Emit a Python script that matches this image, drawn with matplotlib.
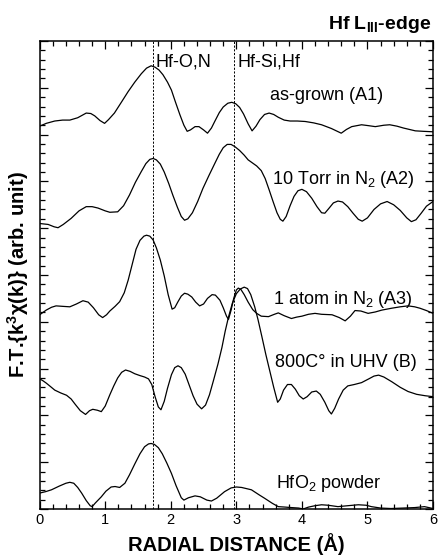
"""Fourier transforms of Hf L_III-edge EXAFS for the HfSiON films (stacked, offset)."""

import matplotlib

matplotlib.use("Agg")
import matplotlib.pyplot as plt
from matplotlib.ticker import MultipleLocator

plt.rcParams.update({
    "font.family": ["Liberation Sans", "DejaVu Sans"],
    "mathtext.fontset": "custom",
    "mathtext.rm": "Liberation Sans",
    "mathtext.it": "Liberation Sans:italic",
    "mathtext.bf": "Liberation Sans:bold",
})

# radial distance (A) / offset FT magnitude (arb.)
r_a1 = [0.00, 0.10, 0.23, 0.35, 0.46, 0.58, 0.71, 0.78, 0.84, 0.92, 0.99, 1.05, 1.14, 1.25, 1.35,
        1.45, 1.55, 1.63, 1.70, 1.76, 1.82, 1.88, 1.95, 2.01, 2.07, 2.14, 2.20, 2.25, 2.30, 2.37,
        2.43, 2.50, 2.56, 2.62, 2.67, 2.74, 2.80, 2.87, 2.93, 2.99, 3.05, 3.11, 3.18, 3.24, 3.30,
        3.36, 3.43, 3.50, 3.57, 3.64, 3.73, 3.82, 3.93, 4.05, 4.18, 4.30, 4.45, 4.60, 4.68, 4.76,
        4.91, 5.02, 5.12, 5.25, 5.34, 5.45, 5.55, 5.73, 5.85, 6.00]
ft_a1 = [8.18, 8.24, 8.29, 8.31, 8.31, 8.36, 8.46, 8.45, 8.40, 8.30, 8.24, 8.32, 8.46, 8.70, 8.92,
         9.12, 9.30, 9.42, 9.47, 9.44, 9.38, 9.28, 9.12, 8.95, 8.70, 8.42, 8.20, 8.07, 8.10, 8.17,
         8.17, 8.10, 8.03, 8.14, 8.28, 8.47, 8.59, 8.67, 8.69, 8.66, 8.58, 8.44, 8.23, 8.08, 8.18,
         8.32, 8.43, 8.46, 8.43, 8.37, 8.31, 8.29, 8.29, 8.28, 8.25, 8.21, 8.13, 8.03, 8.11, 8.17,
         8.21, 8.19, 8.17, 8.20, 8.21, 8.18, 8.14, 8.08, 8.07, 8.06]

r_a2 = [0.00, 0.13, 0.22, 0.28, 0.36, 0.48, 0.60, 0.71, 0.80, 0.89, 1.00, 1.07, 1.19, 1.28, 1.37,
        1.46, 1.55, 1.62, 1.68, 1.73, 1.78, 1.84, 1.90, 1.97, 2.03, 2.10, 2.16, 2.21, 2.26, 2.33,
        2.41, 2.49, 2.58, 2.67, 2.74, 2.80, 2.86, 2.92, 2.98, 3.05, 3.12, 3.18, 3.25, 3.31, 3.38,
        3.44, 3.50, 3.56, 3.62, 3.67, 3.71, 3.76, 3.82, 3.88, 3.94, 4.00, 4.07, 4.15, 4.23, 4.30,
        4.35, 4.41, 4.48, 4.55, 4.62, 4.70, 4.78, 4.86, 4.92, 5.00, 5.10, 5.20, 5.30, 5.40, 5.50,
        5.60, 5.67, 5.74, 5.82, 5.90, 6.00]
ft_a2 = [6.10, 6.08, 6.03, 6.01, 6.08, 6.21, 6.37, 6.46, 6.46, 6.43, 6.37, 6.34, 6.35, 6.48, 6.71,
         6.98, 7.21, 7.38, 7.47, 7.49, 7.46, 7.37, 7.20, 6.95, 6.71, 6.45, 6.25, 6.17, 6.20, 6.33,
         6.57, 6.85, 7.12, 7.38, 7.58, 7.72, 7.79, 7.79, 7.74, 7.66, 7.56, 7.46, 7.39, 7.33, 7.23,
         7.06, 6.82, 6.57, 6.33, 6.19, 6.15, 6.25, 6.48, 6.68, 6.80, 6.83, 6.78, 6.64, 6.46, 6.33,
         6.32, 6.42, 6.54, 6.58, 6.56, 6.46, 6.32, 6.19, 6.15, 6.22, 6.40, 6.52, 6.57, 6.50, 6.38,
         6.22, 6.14, 6.18, 6.32, 6.47, 6.57]

r_a3 = [0.00, 0.10, 0.18, 0.25, 0.35, 0.46, 0.56, 0.66, 0.74, 0.82, 0.90, 0.96, 1.02, 1.07, 1.15,
        1.22, 1.29, 1.35, 1.41, 1.47, 1.53, 1.59, 1.63, 1.68, 1.73, 1.78, 1.84, 1.90, 1.96, 2.02,
        2.06, 2.11, 2.16, 2.21, 2.26, 2.32, 2.38, 2.44, 2.50, 2.56, 2.63, 2.68, 2.75, 2.80, 2.85,
        2.88, 2.92, 2.96, 3.00, 3.03, 3.07, 3.12, 3.18, 3.25, 3.31, 3.38, 3.49, 3.58, 3.64, 3.73,
        3.84, 3.92, 4.00, 4.10, 4.20, 4.30, 4.46, 4.57, 4.66, 4.74, 4.81, 4.90, 5.01, 5.12, 5.22,
        5.37, 5.50, 5.62, 5.72, 5.80, 5.90, 6.00]
ft_a3 = [4.15, 4.25, 4.31, 4.34, 4.33, 4.32, 4.38, 4.45, 4.42, 4.30, 4.15, 4.09, 4.15, 4.23, 4.33,
         4.43, 4.62, 4.89, 5.22, 5.55, 5.74, 5.83, 5.85, 5.83, 5.75, 5.58, 5.32, 4.98, 4.58, 4.27,
         4.30, 4.43, 4.55, 4.61, 4.59, 4.53, 4.42, 4.34, 4.38, 4.50, 4.58, 4.57, 4.46, 4.30, 4.12,
         4.05, 4.25, 4.50, 4.68, 4.72, 4.69, 4.58, 4.42, 4.26, 4.18, 4.12, 4.11, 4.16, 4.19, 4.13,
         4.07, 4.10, 4.12, 4.16, 4.18, 4.16, 4.15, 4.09, 4.02, 4.12, 4.24, 4.23, 4.18, 4.21, 4.25,
         4.29, 4.32, 4.34, 4.32, 4.29, 4.24, 4.18]

r_b = [0.00, 0.05, 0.10, 0.17, 0.23, 0.32, 0.41, 0.48, 0.54, 0.62, 0.70, 0.76, 0.81, 0.88, 0.94,
       1.00, 1.07, 1.13, 1.19, 1.25, 1.31, 1.38, 1.45, 1.53, 1.60, 1.66, 1.71, 1.76, 1.81, 1.85,
       1.90, 1.95, 2.01, 2.06, 2.11, 2.16, 2.22, 2.28, 2.34, 2.40, 2.47, 2.53, 2.59, 2.65, 2.72,
       2.78, 2.83, 2.88, 2.94, 3.00, 3.06, 3.12, 3.17, 3.22, 3.28, 3.33, 3.39, 3.45, 3.51, 3.57,
       3.63, 3.67, 3.72, 3.78, 3.84, 3.90, 3.96, 4.02, 4.08, 4.15, 4.22, 4.28, 4.35, 4.41, 4.45,
       4.50, 4.56, 4.63, 4.70, 4.80, 4.91, 5.02, 5.10, 5.17, 5.25, 5.37, 5.50, 5.62, 5.75, 5.88,
       6.00]
ft_b = [2.78, 2.74, 2.69, 2.61, 2.54, 2.48, 2.43, 2.35, 2.24, 2.10, 2.02, 2.10, 2.13, 2.11, 2.08,
        2.20, 2.44, 2.63, 2.80, 2.92, 2.97, 2.94, 2.89, 2.85, 2.82, 2.78, 2.66, 2.40, 2.18, 2.12,
        2.30, 2.58, 2.87, 3.02, 3.06, 3.02, 2.88, 2.65, 2.42, 2.24, 2.14, 2.22, 2.44, 2.74, 3.10,
        3.45, 3.80, 4.10, 4.40, 4.60, 4.70, 4.74, 4.71, 4.58, 4.32, 4.05, 3.68, 3.30, 2.95, 2.60,
        2.28, 2.35, 2.54, 2.66, 2.66, 2.56, 2.42, 2.35, 2.40, 2.50, 2.52, 2.45, 2.28, 2.10, 2.03,
        2.15, 2.35, 2.54, 2.63, 2.66, 2.70, 2.78, 2.84, 2.86, 2.82, 2.72, 2.60, 2.51, 2.45, 2.42,
        2.40]

r_hfo2 = [0.00, 0.09, 0.18, 0.30, 0.40, 0.46, 0.52, 0.58, 0.64, 0.71, 0.77, 0.80, 0.85, 0.94, 1.01,
          1.09, 1.15, 1.22, 1.30, 1.37, 1.45, 1.53, 1.60, 1.66, 1.70, 1.75, 1.81, 1.87, 1.94, 2.01,
          2.08, 2.16, 2.20, 2.27, 2.37, 2.45, 2.55, 2.62, 2.70, 2.82, 2.92, 3.00, 3.08, 3.23, 3.35,
          3.43, 3.55, 3.64, 3.75, 3.84, 3.95, 4.02, 4.10, 4.20, 4.30, 4.40, 4.55, 4.70, 4.86, 4.98,
          5.06, 5.20, 5.36, 5.55, 5.72, 5.87, 6.00]
ft_hfo2 = [0.34, 0.37, 0.41, 0.49, 0.55, 0.57, 0.55, 0.46, 0.34, 0.18, 0.07, 0.05, 0.13, 0.26, 0.38,
           0.47, 0.48, 0.46, 0.55, 0.73, 0.96, 1.18, 1.33, 1.39, 1.40, 1.38, 1.31, 1.18, 0.98, 0.76,
           0.50, 0.24, 0.19, 0.24, 0.28, 0.26, 0.19, 0.17, 0.23, 0.37, 0.45, 0.47, 0.46, 0.41, 0.30,
           0.23, 0.12, 0.05, 0.04, 0.03, 0.02, 0.00, 0.04, 0.07, 0.09, 0.08, 0.05, 0.07, 0.09, 0.08,
           0.05, 0.02, 0.01, 0.02, 0.03, 0.05, 0.01]

curves = [(r_a1, ft_a1), (r_a2, ft_a2), (r_a3, ft_a3), (r_b, ft_b), (r_hfo2, ft_hfo2)]

# sample labels: (text, x, baseline y)
labels = [
    ("as-grown (A1)", 3.52, 8.74),
    ("10 Torr in N$_2$ (A2)", 3.55, 6.94),
    ("1 atom in N$_2$ (A3)", 3.56, 4.38),
    ("800C\u00b0 in UHV (B)", 3.59, 3.04),
    ("HfO$_2$ powder", 3.60, 0.44),
]
shells = [("Hf-O,N", 1.73), ("Hf-Si,Hf", 2.97)]

fig = plt.figure(figsize=(4.38, 5.6), dpi=100)
ax = fig.add_axes([0.0906, 0.0911, 0.898, 0.8357])

for r, ft in curves:
    ax.plot(r, ft, color="black", lw=0.9)

for name, pos in shells:
    ax.axvline(pos, color="black", lw=0.7, ls=(0, (2.2, 1.6)))
    ax.text(pos + 0.04, 9.45, name, fontsize=13, ha="left", va="baseline")

for text, x, y in labels:
    ax.text(x, y, text, fontsize=13, ha="left", va="baseline")

ax.set_xlim(0, 6)
ax.set_ylim(0, 10)
ax.xaxis.set_major_locator(MultipleLocator(1))
ax.xaxis.set_minor_locator(MultipleLocator(0.2))
ax.yaxis.set_major_locator(MultipleLocator(1))
ax.yaxis.set_minor_locator(MultipleLocator(0.2))
ax.tick_params(which="both", direction="in", top=True, right=True, width=0.9)
ax.tick_params(which="major", length=6)
ax.tick_params(which="minor", length=3.5)
ax.tick_params(axis="x", labelsize=10.5, pad=3)
ax.tick_params(axis="y", labelleft=False)
for s in ax.spines.values():
    s.set_linewidth(1.1)

ax.set_xlabel("RADIAL DISTANCE (\u00c5)", fontsize=14.5, fontweight="bold", labelpad=4)
ax.set_ylabel("F.T.{k$^\\mathbf{3}$\u03c7(k)} (arb. unit)", fontsize=14.5,
              fontweight="bold", labelpad=3)
fig.text(0.9856, 0.9477, r"Hf L$_\mathbf{III}$-edge", fontsize=14, fontweight="bold",
         ha="right", va="baseline")

fig.savefig("out.png", dpi=100)
